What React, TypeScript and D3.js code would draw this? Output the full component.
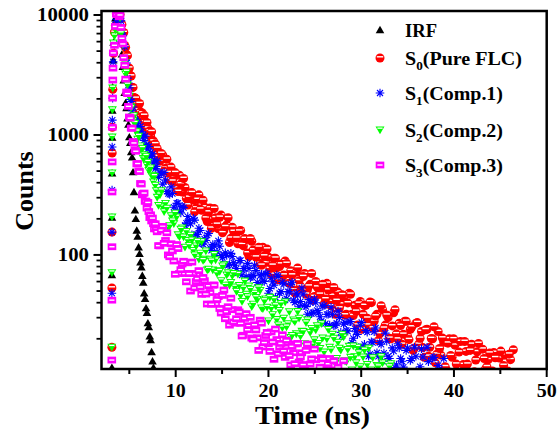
import React from "react";
import * as d3 from "d3";

// TCSPC channel grids (ns): fine channels around the peak, coarser in the tail
const earlyTimes = d3.range(46).map((i) => 3.4 + i * 0.1);
const tailTimes = d3.range(129).map((i) => 8 + i * 0.3);
const midTimes = d3.range(128).map((i) => 8.15 + i * 0.3);

// rising edge points [time, counts]
const irfRise = [[3.12, 11.5], [3.12, 68], [3.13, 205], [3.14, 480], [3.15, 950], [3.17, 1600], [3.2, 2500], [3.26, 4200], [3.3, 5900]];
const s0Rise = [[3.12, 17], [3.12, 53], [3.13, 155], [3.15, 708], [3.17, 1160], [3.22, 2400], [3.3, 4800]];
const s1Rise = [[3.12, 48], [3.13, 155], [3.14, 347], [3.15, 795], [3.17, 1330], [3.2, 2030], [3.26, 4070]];
const s2Rise = [[3.11, 17], [3.12, 71], [3.13, 207], [3.14, 482], [3.15, 960], [3.17, 1620], [3.2, 2460], [3.28, 5840]];
const s3Rise = [[3.11, 13.3], [3.12, 42], [3.13, 117], [3.14, 335], [3.15, 596], [3.17, 1160], [3.2, 2030], [3.22, 2870], [3.24, 3610], [3.27, 4830]];

// counts on earlyTimes
const irfEarly = [7800, 9400, 10300, 10900, 10600, 9800, 7600, 6100, 4700, 3700, 2850, 2250, 1850, 1680, 1380, 1220, 960, 860, 720, 650, 490, 335, 235, 200, 160, 142, 116, 102, 87, 79, 67, 59, 48, 43, 36, 33, 27, 25, 21, 19.5, 15.5, 13, 11.5];
const s0Early = [7170, 8160, 10240, 10370, 10110, 11400, 10080, 8570, 8320, 7000, 7150, 5570, 5380, 4700, 4580, 3590, 3610, 3140, 3100, 2490, 2490, 2050, 2030, 2020, 1775, 1814, 1613, 1829, 1558, 1427, 1525, 1382, 1456, 1284, 1156, 1273, 1140, 1027, 1082, 972, 1066, 870, 890, 817, 844, 696];
const s1Early = [5710, 8320, 9230, 11440, 10200, 10570, 9310, 8940, 6810, 6710, 5680, 5440, 4210, 3980, 2980, 2710, 2470, 1980, 1900, 1590, 1710, 1400, 1350, 1314, 1204, 1288, 1164, 1065, 1178, 1065, 960, 1003, 902, 979, 810, 832, 764, 802, 663, 715, 664, 697, 583, 616, 524, 546];
const s2Early = [6700, 7540, 9910, 10460, 11750, 9750, 9430, 6990, 6330, 5680, 4360, 4010, 3220, 3340, 2610, 2160, 2100, 1730, 1690, 1420, 1318, 1449, 1251, 1074, 1061, 922, 977, 793, 811, 746, 773, 638, 684, 634, 664, 560, 592, 505, 521, 531, 459, 461, 406, 451, 381, 343];
const s3Early = [5590, 8030, 10180, 10070, 11100, 9670, 10010, 7870, 6400, 5738, 4410, 3814, 2919, 2280, 2212, 1732, 1412, 1381, 1139, 1139, 881, 858, 753, 732, 574, 578, 502, 496, 394, 390, 317, 326, 328, 280, 281, 246, 274, 230, 205, 216, 192, 203, 182, 165, 182, 165];

// counts on tailTimes
const s0Tail = [774, 603, 678, 528, 427, 540, 445, 360, 462, 335, 365, 261, 330, 286, 246, 317, 236, 251, 190, 246, 199, 204, 165, 215, 160, 178, 127, 170, 145, 124, 160, 119, 134, 97, 130, 105, 108, 85, 116, 86, 96, 69, 94, 78, 80, 63, 89, 62, 74, 51, 72, 61, 52, 70, 51, 57, 42, 60, 47, 53, 39, 58, 41, 46, 32, 49, 39, 44, 32, 48, 32, 38, 26, 41, 32, 38, 26, 40, 28, 32, 22, 35, 26, 30, 20, 33, 22, 27, 18, 28, 21, 24, 16, 27, 18, 23, 14, 24, 17, 20, 12.6, 23, 14.6, 18.7, 11, 20, 14, 17.7, 9.8, 19, 12.2, 15.7, 9.7, 18, 10.6, 15.6, 8.4, 16.4, 11.2, 13.4, 8.4, 15.4, 10.2, 13.8, 8.2, 14.6, 10.8, 13.4, 16.2];
const s1Tail = [609, 489, 389, 421, 325, 369, 250, 270, 232, 254, 176, 209, 182, 202, 148, 167, 124, 136, 146, 114, 122, 99, 131, 99, 84, 99, 83, 97, 82, 71, 90, 77, 66, 77, 66, 82, 59, 67, 61, 70, 48, 64, 56, 68, 48, 59, 42, 49.5, 57, 42, 48, 37, 53, 38, 32, 40, 33, 40, 33, 28, 38, 32, 26, 32, 26, 34, 22.6, 26.5, 23.5, 27.8, 18.6, 24.4, 21.7, 25.9, 17.1, 23.4, 14.3, 18.9, 22.9, 15.3, 18.6, 13, 22.3, 14.3, 10.8, 15.8, 12.1, 16.8, 13, 10.1, 16.7, 13.2, 10.3, 14.3, 10.9, 16.5, 9.2, 17, 10.5, 13.8, 7.6, 12, 10.3, 13.7];
const s2Tail = [302, 317, 252, 269, 168, 212, 182, 207, 142, 168, 116, 132, 146, 109, 119, 92, 129, 92, 75, 92, 75, 91, 74, 61, 83, 68, 56, 67, 54, 69, 46, 53, 47, 55, 37, 48, 42.6, 50.6, 35.6, 43, 28.2, 36, 42.6, 28.9, 34.4, 24.7, 40.6, 26.7, 20.5, 28.7, 22, 29.7, 23.1, 18.2, 28.7, 22.6, 17.8, 23.7, 18.3, 26.7, 15.5, 19.9, 17, 21.8, 12.5, 18.7, 16.1, 20.7, 12.9, 17.3, 11, 14.2, 17, 11.7, 14.1, 10.1, 16.7, 11, 8.5, 12, 9.3, 12.6, 9.8, 7.8, 12.4];
const s3Tail = [156, 119, 173, 132, 100, 124, 89, 122, 70, 84, 70, 86, 50, 70, 60, 74, 47, 61, 39, 48.6, 56, 39, 45, 32.8, 51, 33.7, 26, 35, 27, 34.9, 26.9, 21.4, 32.4, 25.7, 20.3, 26.2, 20.4, 28.6, 17.1, 21.3, 18.2, 22.8, 13.5, 19.7, 17.1, 21.6, 14, 18.4, 12.1, 15.3, 18.1, 12.8, 15.3, 11.3, 18.1, 12.3, 9.7, 13.4, 10.5, 13.9, 11.1, 8.9, 13.7, 11, 8.9, 11.6, 9.2, 13.1];

// counts on midTimes (channels between the tail channels)
const s0Mid = [662, 702, 498, 628, 485, 412, 486, 338, 391, 434, 295, 302, 331, 229, 290, 241, 286, 203, 228, 167, 244, 180, 206, 153, 172, 204, 138, 157, 138, 158, 122, 137, 104, 137, 110, 96, 116, 82, 98, 112, 77, 82, 94, 62, 84, 68, 85, 58, 68, 48, 78, 55, 66, 47, 55, 70, 45, 54, 47, 57, 43, 51, 37.6, 53.6, 41.7, 36.1, 46.6, 31.6, 39.8, 47, 31.2, 33.9, 39.5, 24, 37.9, 29.7, 40.6, 24.6, 31, 19.3, 37.8, 24.5, 31.5, 20.2, 25.6, 35, 19.9, 25.8, 21.8, 28, 19.7, 25.1, 16.8, 27.3, 20.2, 16.9, 23.8, 14.3, 20.1, 25.2, 14.9, 16.6, 20.3, 11.7, 18.4, 14.5, 20, 12.3, 15.5, 9.6, 19, 12.3, 16, 10.4, 13.3, 18.3, 10.5, 13.7, 11.7, 15.2, 10.8, 13.9, 9.5, 15.8, 12, 10.3, 14.9, 9.1];
const s1Mid = [443, 473, 488, 339, 320, 325, 233, 270, 224, 248, 184, 194, 147, 195, 148, 160, 123, 132, 151, 109, 119, 106, 118, 95, 104, 82, 103, 86, 77, 90, 68, 77, 85, 64.6, 67.6, 74.2, 56.2, 68.8, 60.2, 70, 52.5, 59.7, 44.4, 66.2, 49.5, 57.4, 43.2, 49.2, 59.2, 40.2, 46.3, 40.9, 47.2, 37.1, 42.4, 32.4, 42.8, 34.5, 30.5, 37.4, 26.8, 32, 36.6, 25.7, 27, 30.1, 21.2, 27.4, 23.1, 27.8, 20.2, 22.9, 17, 27.4, 18, 22.7, 14.9, 18.6, 24.6, 14.3, 18, 15.2, 19.1, 13.7, 16.8, 11.5, 18.2, 13.7, 11.6, 16, 10, 13.7, 17, 10.5, 11.7, 14.1, 8.5, 12.9, 10.4, 14, 8.9, 11.1, 7.1];
const s2Mid = [258, 343, 229, 245, 175, 192, 223, 147, 164, 141, 157, 120, 133, 100, 130, 103.5, 90, 108, 76, 89, 101, 70, 73, 81, 56, 71, 59, 70, 49.7, 55.6, 41, 60.5, 44.8, 51.8, 38.9, 44.1, 53.2, 36.2, 41.6, 36.6, 44.3, 31.8, 37.8, 26.1, 39.3, 29.7, 25.1, 33.6, 21.3, 27.8, 33.7, 21, 23, 27.2, 16.7, 24.4, 19.6, 25.7, 16.6, 20.3, 13.4, 23.9, 16.2, 20.2, 13.7, 16.7, 21.8, 13.1, 16.3, 14, 17.4, 12.6, 15.3, 10.6, 16.1, 12.2, 10.3, 13.9, 8.8, 11.7, 14.2, 8.9, 9.8, 11.7];
const s3Mid = [119.5, 161, 125, 153, 96.6, 108, 69, 113, 75.4, 88.6, 59.7, 69.9, 87.2, 53.1, 63.6, 54, 64.9, 47.2, 55.4, 38.8, 56.1, 42.5, 35.8, 46, 29.4, 37, 43.6, 27.6, 29.4, 33.5, 21.1, 29.6, 23.8, 30.2, 19.9, 23.7, 16, 27, 18.6, 22.6, 15.7, 18.8, 24.1, 15, 18.3, 15.9, 19.4, 14.5, 17.3, 12.4, 18.3, 14.1, 12.2, 16, 10.5, 13.6, 16.4, 10.6, 11.6, 13.6, 8.7, 12.4, 10.1, 13.1, 8.8, 10.6, 7.3];

const xMajor = [10, 20, 30, 40, 50];
const xMinor = [5, 15, 25, 35, 45];
const yMajor = [100, 1000, 10000];

const seriesNames = ["IRF", "S0", "S1", "S2", "S3"];
const legendLabels = [
  { main: "IRF", sub: "", rest: "" },
  { main: "S", sub: "0", rest: "(Pure FLC)" },
  { main: "S", sub: "1", rest: "(Comp.1)" },
  { main: "S", sub: "2", rest: "(Comp.2)" },
  { main: "S", sub: "3", rest: "(Comp.3)" },
];

const W = 557;
const H = 436;
const plot = { left: 101.5, right: 546.7, top: 11, bottom: 369 };
const FONT = "'Liberation Serif', 'Times New Roman', serif";

const build = (rise: number[][], early: number[], tail: number[], mid: number[]) => [
  ...rise.map(([t, v]) => ({ t, v })),
  ...early.map((v, i) => ({ t: earlyTimes[i], v })),
  ...tail.map((v, i) => ({ t: tailTimes[i], v })),
  ...mid.map((v, i) => ({ t: midTimes[i], v })),
];

const series = [
  build(irfRise, irfEarly, [], []),
  build(s0Rise, s0Early, s0Tail, s0Mid),
  build(s1Rise, s1Early, s1Tail, s1Mid),
  build(s2Rise, s2Early, s2Tail, s2Mid),
  build(s3Rise, s3Early, s3Tail, s3Mid),
];

const Marker = ({ kind, cx, cy }: { kind: string; cx: number; cy: number }) => {
  const tr = `translate(${cx.toFixed(2)},${cy.toFixed(2)})`;
  switch (kind) {
    case "IRF":
      return <path transform={tr} d="M0,-4.2L4.3,3.2L-4.3,3.2Z" fill="#000" />;
    case "S0":
      return (
        <g transform={tr}>
          <circle r={4.5} fill="#ff0000" />
          <rect x={-3.2} y={-1.9} width={6.4} height={1.4} fill="#fff" />
        </g>
      );
    case "S1":
      return (
        <path
          transform={tr}
          d="M0,-4.3V4.3M-4.3,0H4.3M-3,-3L3,3M-3,3L3,-3"
          stroke="#0000ff"
          strokeWidth={1.1}
          fill="none"
        />
      );
    case "S2":
      return (
        <g transform={tr}>
          <path d="M-4.5,-3.5L4.5,-3.5L0,4.3Z" fill="#00ff00" />
          <rect x={-2.6} y={-2.5} width={5.2} height={1.3} fill="#fff" />
        </g>
      );
    default:
      return (
        <g transform={tr}>
          <rect x={-4.3} y={-3.4} width={8.6} height={6.8} fill="#ff00ff" />
          <rect x={-2.6} y={-0.7} width={5.2} height={1.4} fill="#fff" />
        </g>
      );
  }
};

export default function App() {
  const x = d3.scaleLinear().domain([2, 50]).range([plot.left, plot.right]);
  const y = d3.scaleLog().domain([11.2, 10800]).range([plot.bottom, plot.top]);
  const yMinor = y.ticks().filter((v) => !yMajor.includes(v));

  const legendRows = [30, 58, 93, 130, 165];
  const legendWidths = [32, 117, 98, 98, 98];

  return (
    <svg
      width={W}
      height={H}
      style={{ position: "absolute", left: 0, top: 0, background: "#fff" }}
      fontFamily={FONT}
      fontWeight="bold"
    >
      <defs>
        <clipPath id="plotClip">
          <rect x={plot.left} y={plot.top} width={plot.right - plot.left} height={plot.bottom - plot.top} />
        </clipPath>
      </defs>

      <g clipPath="url(#plotClip)">
        {series.map((pts, si) => (
          <g key={si}>
            {pts.map((p, i) => (
              <Marker key={i} kind={seriesNames[si]} cx={x(p.t)} cy={y(p.v)} />
            ))}
          </g>
        ))}
      </g>

      {/* frame */}
      <rect
        x={plot.left}
        y={plot.top}
        width={plot.right - plot.left}
        height={plot.bottom - plot.top}
        fill="none"
        stroke="#000"
        strokeWidth={2.5}
      />

      {/* x ticks */}
      {xMajor.map((v) => (
        <g key={"xM" + v}>
          <line x1={x(v)} x2={x(v)} y1={plot.bottom} y2={plot.bottom + 8} stroke="#000" strokeWidth={2} />
          <text
            x={x(v)}
            y={397}
            fontSize={18}
            textAnchor="middle"
            textLength={String(v).length * 10}
            lengthAdjust="spacingAndGlyphs"
          >
            {v}
          </text>
        </g>
      ))}
      {xMinor.map((v) => (
        <line key={"xm" + v} x1={x(v)} x2={x(v)} y1={plot.bottom} y2={plot.bottom + 5} stroke="#000" strokeWidth={2} />
      ))}

      {/* y ticks */}
      {yMajor.map((v) => (
        <g key={"yM" + v}>
          <line x1={plot.left} x2={plot.left - 8} y1={y(v)} y2={y(v)} stroke="#000" strokeWidth={2} />
          <text
            x={89}
            y={y(v)}
            dy="0.36em"
            fontSize={18}
            textAnchor="end"
            textLength={String(v).length * 10.4}
            lengthAdjust="spacingAndGlyphs"
          >
            {v}
          </text>
        </g>
      ))}
      {yMinor.map((v) => (
        <line key={"ym" + v} x1={plot.left} x2={plot.left - 5} y1={y(v)} y2={y(v)} stroke="#000" strokeWidth={1.8} />
      ))}

      {/* axis titles */}
      <text x={312.5} y={424} fontSize={26} textAnchor="middle" textLength={115} lengthAdjust="spacingAndGlyphs">
        Time (ns)
      </text>
      <text transform="translate(33,191) rotate(-90)" fontSize={26} textAnchor="middle">
        Counts
      </text>

      {/* legend */}
      {legendLabels.map((l, i) => (
        <g key={"lg" + i}>
          <Marker kind={seriesNames[i]} cx={380} cy={legendRows[i]} />
          <text
            x={405}
            y={legendRows[i] + 6.5}
            fontSize={19}
            textLength={legendWidths[i]}
            lengthAdjust="spacingAndGlyphs"
          >
            {l.main}
            {l.sub && (
              <tspan fontSize={12.5} dy={5}>
                {l.sub}
              </tspan>
            )}
            {l.rest && <tspan dy={-5}>{l.rest}</tspan>}
          </text>
        </g>
      ))}
    </svg>
  );
}
